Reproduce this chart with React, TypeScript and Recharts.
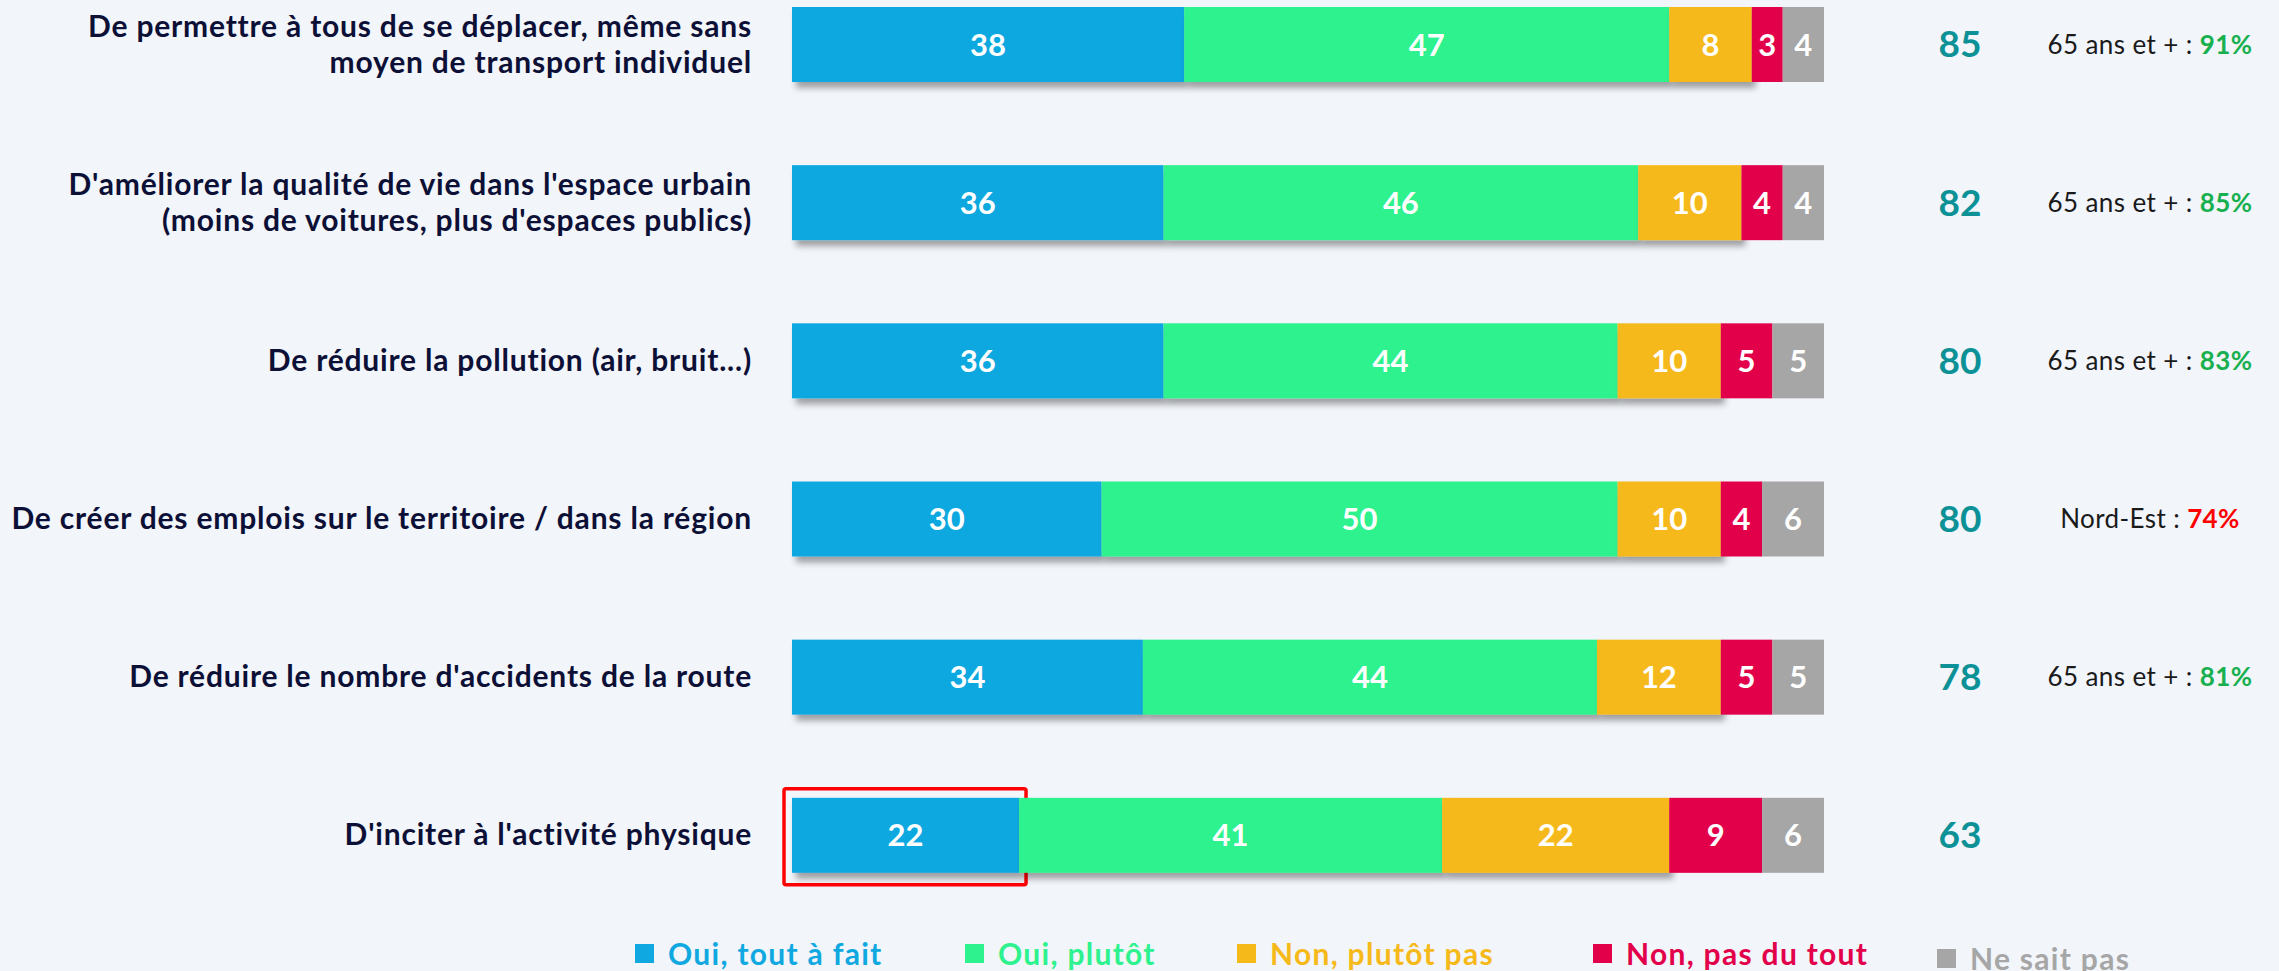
import React from 'react';
import { BarChart, Bar, XAxis, YAxis, LabelList } from 'recharts';

// categories (line breaks mark the wrapped labels)
const items = [
  'De permettre à tous de se déplacer, même sans\nmoyen de transport individuel',
  "D'améliorer la qualité de vie dans l'espace urbain\n(moins de voitures, plus d'espaces publics)",
  'De réduire la pollution (air, bruit...)',
  'De créer des emplois sur le territoire / dans la région',
  "De réduire le nombre d'accidents de la route",
  "D'inciter à l'activité physique",
];

const ouiTout = [38, 36, 36, 30, 34, 22];
const ouiPlutot = [47, 46, 44, 50, 44, 41];
const nonPlutot = [8, 10, 10, 10, 12, 22];
const nonPasDuTout = [3, 4, 5, 4, 5, 9];
const nsp = [4, 4, 5, 6, 5, 6];

// sub-group callouts on the right
const subLabels = ['65 ans et +', '65 ans et +', '65 ans et +', 'Nord-Est', '65 ans et +', ''];
const subValues = ['91%', '85%', '83%', '74%', '81%', ''];
const subUp = [true, true, true, false, true, true];

const highlightRow = 5;

const series = [
  { key: 'ouiTout', name: 'Oui, tout à fait', color: '#10a8e0', shadow: true },
  { key: 'ouiPlutot', name: 'Oui, plutôt', color: '#2ef28e', shadow: true },
  { key: 'nonPlutot', name: 'Non, plutôt pas', color: '#f6b91a', shadow: true },
  { key: 'nonPasDuTout', name: 'Non, pas du tout', color: '#e3004a', shadow: false },
  { key: 'nsp', name: 'Ne sait pas', color: '#a6a6a6', shadow: false },
];

const data = items.map((name, i) => ({
  name,
  ouiTout: ouiTout[i],
  ouiPlutot: ouiPlutot[i],
  nonPlutot: nonPlutot[i],
  nonPasDuTout: nonPasDuTout[i],
  nsp: nsp[i],
  total: ouiTout[i] + ouiPlutot[i],
}));

const FONT = 'Lato, "Open Sans", sans-serif';
const NAVY = '#0d1036';

const LeftTick = (props: any) => {
  const { x, y, payload } = props;
  const lines: string[] = String(payload.value).split('\n');
  const lh = 36;
  const start = y - ((lines.length - 1) * lh) / 2;
  return (
    <text
      x={x}
      y={start}
      textAnchor="end"
      fill={NAVY}
      fontFamily={FONT}
      fontWeight={700}
      fontSize={30}
      letterSpacing={0.8}
    >
      {lines.map((l, i) => (
        <tspan key={i} x={x} y={start + i * lh} dy="0.35em">
          {l}
        </tspan>
      ))}
    </text>
  );
};

const makeShape = (color: string, shadow: boolean, first: boolean) => (props: any) => {
  const { x, y, width, height, index } = props;
  return (
    <g>
      <rect x={x} y={y} width={width} height={height} fill={color} filter={shadow ? 'url(#barShadow)' : undefined} />
      {first && index === highlightRow && (
        <rect
          x={x - 8}
          y={y - 9}
          width={width + 15}
          height={height + 21}
          rx={2}
          fill="none"
          stroke="#ff0000"
          strokeWidth={3.5}
        />
      )}
    </g>
  );
};

const RightCallout = (props: any) => {
  const { x, y, width, height, index } = props;
  const cy = y + height / 2;
  const end = x + width;
  const row = data[index];
  return (
    <g fontFamily={FONT}>
      <text x={end + 136} y={cy} dy="0.35em" textAnchor="middle" fill="#0b9196" fontWeight={700} fontSize={37}>
        {row.total}
      </text>
      {subLabels[index] && (
        <text x={end + 326} y={cy} dy="0.35em" textAnchor="middle" fill="#1a1a1a" fontSize={26} letterSpacing={0.4}>
          <tspan>{subLabels[index]} : </tspan>
          <tspan fontWeight={700} fill={subUp[index] ? '#18b04f' : '#ff0000'}>
            {subValues[index]}
          </tspan>
        </text>
      )}
    </g>
  );
};

const legendLeft = [635, 965, 1237, 1593, 1937];

export default function App() {
  return (
    <div
      style={{
        position: 'absolute',
        left: 0,
        top: 0,
        width: 2279,
        height: 971,
        overflow: 'hidden',
        background: '#f2f5fa',
      }}
    >
      <div style={{ position: 'absolute', left: 0, top: -35 }}>
        <BarChart
          width={2279}
          height={1006}
          data={data}
          layout="vertical"
          margin={{ top: 0, right: 455, bottom: 57, left: 0 }}
          barSize={75}
        >
          <defs>
            <filter id="barShadow" x="-5%" y="-20%" width="115%" height="160%">
              <feDropShadow dx={4} dy={6} stdDeviation={3} floodColor="#000" floodOpacity={0.35} />
            </filter>
          </defs>
          <XAxis type="number" domain={[0, 100]} hide />
          <YAxis
            type="category"
            dataKey="name"
            width={792}
            axisLine={false}
            tickLine={false}
            tick={<LeftTick />}
            tickMargin={34}
            interval={0}
          />
          {series.map((s, si) => (
            <Bar
              key={s.key}
              dataKey={s.key}
              name={s.name}
              stackId="a"
              fill={s.color}
              isAnimationActive={false}
              shape={makeShape(s.color, s.shadow, si === 0)}
            >
              <LabelList
                dataKey={s.key}
                position="center"
                fill="#ffffff"
                fontFamily={FONT}
                fontWeight={700}
                fontSize={31}
              />
              {si === series.length - 1 && <LabelList dataKey="total" content={<RightCallout />} />}
            </Bar>
          ))}
        </BarChart>
      </div>
      {series.map((s, i) => (
        <div
          key={s.key}
          style={{
            position: 'absolute',
            left: legendLeft[i],
            top: i === 4 ? 940 : 935,
            display: 'flex',
            alignItems: 'center',
            fontFamily: FONT,
            fontWeight: 700,
            fontSize: 30,
            letterSpacing: 1.3,
            color: s.color,
            whiteSpace: 'nowrap',
          }}
        >
          <span style={{ display: 'inline-block', width: 19, height: 19, background: s.color, marginRight: 14 }} />
          {s.name}
        </div>
      ))}
    </div>
  );
}
